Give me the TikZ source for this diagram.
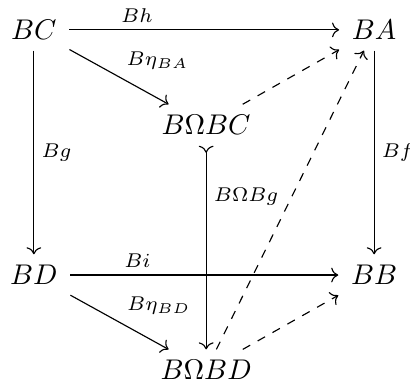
\documentclass[tikz,border=0pt]{standalone}
\usepackage{amsmath}
\usepackage{amssymb}
\usetikzlibrary{arrows.meta}

\begin{document}
\begin{tikzpicture}[x=1pt,y=1pt,>={Computer Modern Rightarrow},
  obj/.style={inner xsep=1ex, inner ysep=0.85ex},
  lbl/.style={font=\scriptsize, inner sep=2.5pt}]
\useasboundingbox (0,0) rectangle (144,135.9);
\node [obj] (bc) at (11.9,125.4) {$BC$};
\node [obj] (ba) at (131.4,125.4) {$BA$};
\node [obj] (bobc) at (72.4,92) {$B\Omega BC$};
\node [obj] (bd) at (11.9,39.3) {$BD$};
\node [obj] (bb) at (131.4,39.3) {$BB$};
\node [obj] (bobd) at (72.4,5.9) {$B\Omega BD$};
\draw [->] (bc) -- node [lbl, above, pos=0.25] {$Bh$} (ba);
\draw [->] (bc) -- node [lbl, auto] {$B\eta_{BA}$} (bobc);
\draw [->] (bc) -- node [lbl, right] {$Bg$} (bd);
\draw [->] (ba) -- node [lbl, right] {$Bf$} (bb);
\draw [>->] (bobc) -- node [lbl, right, pos=0.25] {$B\Omega Bg$} (bobd);
\draw [->] (bd) -- node [lbl, above, pos=0.25] {$Bi$} (bb);
\draw [->] (bd) -- node [lbl, auto] {$B\eta_{BD}$} (bobd);
\draw [->, dashed] (bobc) -- (ba);
\draw [->, dashed] (bobd) -- (ba);
\draw [->, dashed] (bobd) -- (bb);
\end{tikzpicture}
\end{document}
